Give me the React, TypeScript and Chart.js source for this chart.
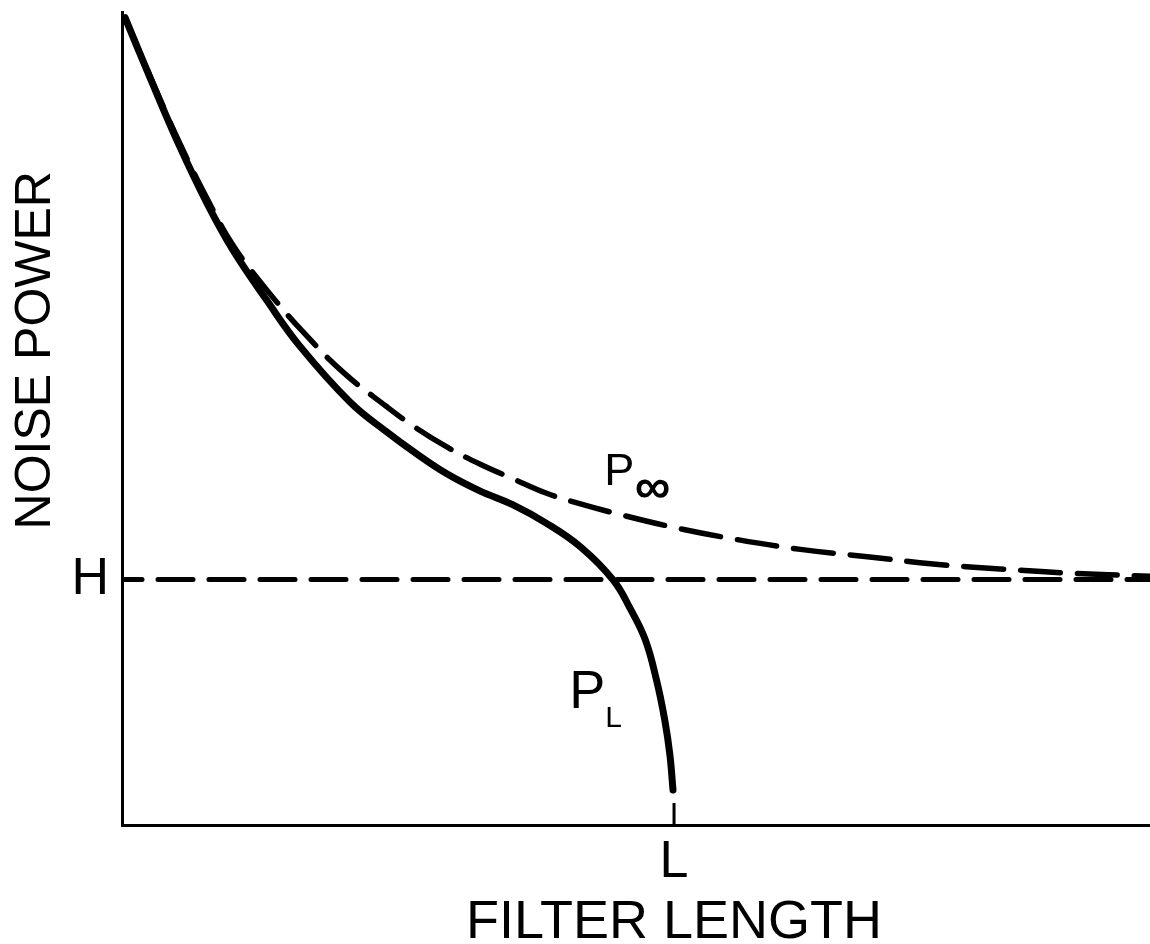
import React, { useEffect, useRef } from 'react';
import { Chart, registerables } from 'chart.js';

Chart.register(...registerables);

// ---- data (arbitrary units: filter length 0..10, noise power 0..10) ----
const PL_X = [0.03, 0.29, 0.56, 0.83, 1.08, 1.41, 1.73, 2.22, 2.58, 2.85, 3.16, 3.48, 3.80, 4.13, 4.46, 4.78, 4.94, 5.09, 5.20, 5.28, 5.33, 5.36];
const PL_Y = [9.93, 9.14, 8.35, 7.64, 7.07, 6.45, 5.89, 5.20, 4.83, 4.58, 4.32, 4.11, 3.94, 3.71, 3.42, 3.01, 2.67, 2.28, 1.78, 1.29, 0.86, 0.43];

const PINF_X = [0.03, 0.29, 0.56, 0.83, 1.08, 1.39, 1.75, 2.15, 2.57, 2.83, 3.16, 3.48, 3.80, 4.13, 4.46, 4.78, 5.30, 5.94, 6.60, 7.25, 7.89, 8.54, 9.19, 10.0];
const PINF_Y = [9.93, 9.16, 8.39, 7.70, 7.13, 6.61, 6.08, 5.57, 5.15, 4.91, 4.65, 4.44, 4.26, 4.08, 3.95, 3.84, 3.68, 3.52, 3.39, 3.30, 3.21, 3.15, 3.10, 3.06];

const H_VALUE = 3.02;
const L_VALUE = 5.37;
const H_LINE_X = [0, 10];
const L_MARK_Y = [0.27, 0];

const X_TICK_LABELS = ['L'];
const Y_TICK_LABELS = ['H'];
const X_TITLE = 'FILTER LENGTH';
const Y_TITLE = 'NOISE POWER';

const FONT = '"Liberation Sans", Arial, sans-serif';

function pts(xs: number[], ys: number[]) {
  return xs.map((x, i) => ({ x, y: ys[i] }));
}

export default function App() {
  const ref = useRef<HTMLCanvasElement>(null);

  useEffect(() => {
    const canvas = ref.current;
    if (!canvas) return;

    const labelPlugin = {
      id: 'textLabels',
      afterDraw(chart: any) {
        const { ctx } = chart;
        const xs = chart.scales.x;
        const ys = chart.scales.y;
        const px = (v: number) => xs.getPixelForValue(v);
        const py = (v: number) => ys.getPixelForValue(v);
        ctx.save();
        ctx.fillStyle = '#000';
        ctx.textBaseline = 'alphabetic';

        // P∞ label
        ctx.textAlign = 'left';
        ctx.font = `45px ${FONT}`;
        ctx.fillText('P', px(4.69), py(4.18));
        ctx.textAlign = 'center';
        ctx.font = `bold 50px ${FONT}`;
        ctx.fillText('∞', px(5.16), py(3.96));

        // P_L label
        ctx.textAlign = 'left';
        ctx.font = `54px ${FONT}`;
        ctx.fillText('P', px(4.35), py(1.44));
        ctx.font = `30px ${FONT}`;
        ctx.fillText('L', px(4.70), py(1.21));

        // x axis title
        ctx.textAlign = 'center';
        ctx.font = `54px ${FONT}`;
        ctx.fillText(X_TITLE, px(L_VALUE), 938);

        // y axis title
        ctx.save();
        ctx.translate(50, py(5.84));
        ctx.rotate(-Math.PI / 2);
        ctx.textAlign = 'center';
        ctx.font = `50px ${FONT}`;
        ctx.fillText(Y_TITLE, 0, 0);
        ctx.restore();

        ctx.restore();
      },
    };

    const chart = new Chart(canvas, {
      type: 'line',
      data: {
        datasets: [
          {
            label: 'P∞',
            data: pts(PINF_X, PINF_Y),
            borderColor: '#000',
            borderWidth: 5.5,
            borderDash: [40, 17],
            borderCapStyle: 'round',
            pointRadius: 0,
            tension: 0.4,
            fill: false,
          },
          {
            label: 'PL',
            data: pts(PL_X, PL_Y),
            borderColor: '#000',
            borderWidth: 7,
            borderCapStyle: 'round',
            borderJoinStyle: 'round',
            pointRadius: 0,
            tension: 0.4,
            fill: false,
          },
          {
            label: 'H',
            data: pts(H_LINE_X, [H_VALUE, H_VALUE]),
            borderColor: '#000',
            borderWidth: 5,
            borderDash: [35, 16],
            borderDashOffset: 15,
            borderCapStyle: 'round',
            pointRadius: 0,
            fill: false,
          },
          {
            label: 'Lmark',
            data: pts([L_VALUE, L_VALUE], L_MARK_Y),
            borderColor: '#000',
            borderWidth: 3,
            pointRadius: 0,
            fill: false,
          },
        ],
      } as any,
      options: {
        animation: false,
        responsive: false,
        devicePixelRatio: 1,
        layout: { padding: { top: 12, left: 0, right: 0, bottom: 0 } },
        plugins: {
          legend: { display: false },
          tooltip: { enabled: false },
        },
        scales: {
          x: {
            type: 'linear',
            min: 0,
            max: 10,
            grid: { display: false, drawTicks: false },
            border: { display: true, color: '#000', width: 3 },
            afterBuildTicks: (scale: any) => {
              scale.ticks = [{ value: L_VALUE }];
            },
            afterFit: (scale: any) => {
              scale.height = 944 - 825;
              scale.paddingLeft = 0;
              scale.paddingRight = 0;
            },
            ticks: {
              autoSkip: false,
              maxRotation: 0,
              padding: 6,
              color: '#000',
              font: { family: FONT, size: 52 },
              callback: (_v: any, i: number) => X_TICK_LABELS[i],
            },
          },
          y: {
            type: 'linear',
            min: 0,
            max: 10,
            grid: { display: false, drawTicks: false },
            border: { display: true, color: '#000', width: 3 },
            afterBuildTicks: (scale: any) => {
              scale.ticks = [{ value: H_VALUE }];
            },
            afterFit: (scale: any) => {
              scale.width = 122;
              scale.paddingTop = 0;
              scale.paddingBottom = 0;
            },
            ticks: {
              autoSkip: false,
              padding: 13,
              color: '#000',
              font: { family: FONT, size: 52 },
              callback: (_v: any, i: number) => Y_TICK_LABELS[i],
            },
          },
        },
      } as any,
      plugins: [labelPlugin],
    });

    return () => chart.destroy();
  }, []);

  return (
    <canvas
      ref={ref}
      width={1150}
      height={944}
      style={{ position: 'fixed', left: 0, top: 0, width: 1150, height: 944, background: '#fff' }}
    />
  );
}
